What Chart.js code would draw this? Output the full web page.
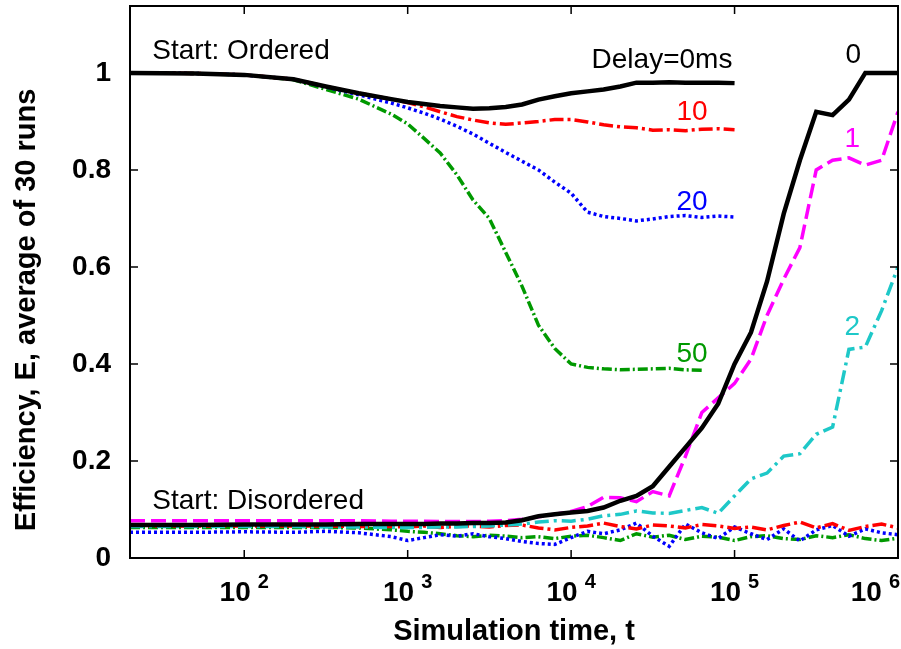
<!DOCTYPE html>
<html>
<head>
<meta charset="utf-8">
<title>Efficiency vs simulation time</title>
<script src="https://cdn.jsdelivr.net/npm/chart.js@4.4.1/dist/chart.umd.min.js"></script>
<style>
    html, body { margin: 0; padding: 0; background: #ffffff; }
    #effChart { display: block; }
</style>
</head>
<body>
<canvas id="effChart" width="901" height="649"></canvas>
<script>
// time points (simulation steps) for runs started from the ordered state
var tOrdered = [20, 50, 100, 200, 316, 501, 794, 1000, 1260, 1580, 2000, 2510, 3160, 3980,
    5010, 6310, 7940, 10000, 12600, 15800, 20000, 25100, 31600, 39800, 50100, 63100, 79400, 100000];

// mean efficiency, ordered start, one list per delay
var e0Ordered = [1.0, 0.999, 0.996, 0.987, 0.972, 0.958, 0.946, 0.940, 0.936, 0.932, 0.929, 0.926, 0.927, 0.930,
    0.935, 0.945, 0.952, 0.958, 0.962, 0.966, 0.972, 0.980, 0.980, 0.981, 0.980, 0.980, 0.980, 0.979];
var e10Ordered = [1.0, 0.999, 0.996, 0.987, 0.972, 0.958, 0.946, 0.939, 0.930, 0.920, 0.910, 0.903, 0.897, 0.894,
    0.897, 0.900, 0.904, 0.904, 0.899, 0.893, 0.889, 0.887, 0.882, 0.883, 0.881, 0.884, 0.885, 0.883];
var e20Ordered = [1.0, 0.999, 0.996, 0.987, 0.971, 0.955, 0.938, 0.928, 0.917, 0.905, 0.890, 0.874, 0.855, 0.836,
    0.818, 0.800, 0.775, 0.752, 0.713, 0.704, 0.700, 0.695, 0.699, 0.704, 0.706, 0.702, 0.705, 0.703];
var e50Ordered = [1.0, 0.999, 0.996, 0.986, 0.966, 0.946, 0.915, 0.895, 0.865, 0.835, 0.790, 0.738, 0.700, 0.630,
    0.560, 0.480, 0.432, 0.400, 0.393, 0.390, 0.388, 0.389, 0.390, 0.391, 0.388, 0.387];

// time points for runs started from the disordered state
var tDisordered = [20, 50, 100, 200, 316, 501, 794, 1000, 1260, 1580, 2000, 2510, 3160, 3980,
    5010, 6310, 7940, 10000, 12600, 15800, 20000, 25100, 31600, 39800, 50100, 63100, 79400, 100000,
    126000, 158000, 200000, 251000, 316000, 398000, 501000, 631000, 794000, 1000000];

var e0Disordered = [0.068, 0.068, 0.069, 0.069, 0.069, 0.070, 0.070, 0.070, 0.070, 0.071, 0.071, 0.072, 0.072, 0.073,
    0.078, 0.086, 0.090, 0.094, 0.097, 0.104, 0.118, 0.128, 0.148, 0.188, 0.228, 0.268, 0.318, 0.400,
    0.465, 0.570, 0.710, 0.820, 0.920, 0.913, 0.945, 1.0, 1.0, 1.0];
var e1Disordered = [0.077, 0.077, 0.077, 0.077, 0.077, 0.077, 0.076, 0.076, 0.076, 0.075, 0.075, 0.075, 0.076, 0.077,
    0.080, 0.085, 0.090, 0.096, 0.106, 0.125, 0.124, 0.116, 0.137, 0.128, 0.210, 0.300, 0.330, 0.360,
    0.410, 0.500, 0.575, 0.640, 0.800, 0.820, 0.825, 0.810, 0.820, 0.920];
var e2Disordered = [0.065, 0.065, 0.065, 0.065, 0.064, 0.064, 0.063, 0.063, 0.063, 0.064, 0.064, 0.065, 0.066, 0.068,
    0.070, 0.074, 0.077, 0.076, 0.080, 0.087, 0.090, 0.097, 0.093, 0.092, 0.098, 0.104, 0.092, 0.128,
    0.163, 0.175, 0.210, 0.215, 0.255, 0.270, 0.430, 0.435, 0.510, 0.600];
var e10Disordered = [0.066, 0.066, 0.066, 0.066, 0.066, 0.065, 0.065, 0.064, 0.066, 0.063, 0.065, 0.066, 0.064, 0.067,
    0.068, 0.062, 0.058, 0.063, 0.066, 0.072, 0.065, 0.060, 0.068, 0.066, 0.062, 0.069, 0.066, 0.061,
    0.064, 0.058, 0.067, 0.074, 0.062, 0.071, 0.057, 0.065, 0.070, 0.062];
var e20Disordered = [0.053, 0.053, 0.054, 0.053, 0.055, 0.052, 0.044, 0.036, 0.042, 0.048, 0.045, 0.050, 0.044, 0.040,
    0.034, 0.030, 0.028, 0.042, 0.055, 0.050, 0.058, 0.072, 0.045, 0.024, 0.070, 0.052, 0.040, 0.064,
    0.050, 0.038, 0.060, 0.035, 0.058, 0.067, 0.045, 0.060, 0.052, 0.048];
var e50Disordered = [0.063, 0.063, 0.063, 0.063, 0.063, 0.062, 0.058, 0.055, 0.053, 0.050, 0.046, 0.044, 0.047, 0.045,
    0.042, 0.044, 0.040, 0.045, 0.047, 0.042, 0.036, 0.050, 0.043, 0.047, 0.038, 0.045, 0.043, 0.036,
    0.044, 0.046, 0.040, 0.038, 0.046, 0.042, 0.048, 0.040, 0.036, 0.041];

// axis ticks
var decades = [100, 1000, 10000, 100000, 1000000];
var yTicks = [0, 0.2, 0.4, 0.6, 0.8, 1];

// text written next to the curves, placed in data units (t, E)
var curveLabels = [
    {text: 'Start: Ordered', t: 27.4, e: 1.029, color: '#000000', align: 'left'},
    {text: 'Delay=0ms', t: 97000, e: 1.010, color: '#000000', align: 'right'},
    {text: '10', t: 55000, e: 0.903, color: '#ff0000', align: 'center'},
    {text: '20', t: 55000, e: 0.718, color: '#0000ff', align: 'center'},
    {text: '50', t: 55000, e: 0.405, color: '#009900', align: 'center'},
    {text: '0', t: 532000, e: 1.021, color: '#000000', align: 'center'},
    {text: '1', t: 525000, e: 0.848, color: '#ff00ff', align: 'center'},
    {text: '2', t: 525000, e: 0.460, color: '#1ec8c8', align: 'center'},
    {text: 'Start: Disordered', t: 27.4, e: 0.102, color: '#000000', align: 'left'}
];

var FONT = '"Liberation Sans", Arial, Helvetica, sans-serif';

function toPoints(times, values) {
    var pts = [];
    for (var i = 0; i < values.length; i++) {
        pts.push({x: times[i], y: values[i]});
    }
    return pts;
}

function curve(label, times, values, color, width, dash) {
    return {
        label: label,
        data: toPoints(times, values),
        borderColor: color,
        backgroundColor: color,
        borderWidth: width,
        borderDash: dash,
        borderCapStyle: 'butt',
        borderJoinStyle: 'miter',
        pointRadius: 0,
        tension: 0,
        fill: false
    };
}

// frame, inward ticks, power-of-ten labels, y title and curve labels
var framePlugin = {
    id: 'frame',
    afterDraw: function (chart) {
        var ctx = chart.ctx;
        var area = chart.chartArea;
        var xs = chart.scales.x;
        var ys = chart.scales.y;
        var tick = 8;

        ctx.save();
        ctx.strokeStyle = '#000000';
        ctx.lineWidth = 2;
        ctx.strokeRect(area.left, area.top, area.right - area.left, area.bottom - area.top);

        ctx.lineWidth = 1.5;
        ctx.beginPath();
        for (var i = 0; i < decades.length; i++) {
            var px = xs.getPixelForValue(decades[i]);
            if (px > area.right - 2) continue;
            ctx.moveTo(px, area.bottom);
            ctx.lineTo(px, area.bottom - tick);
            ctx.moveTo(px, area.top);
            ctx.lineTo(px, area.top + tick);
        }
        for (var j = 0; j < yTicks.length; j++) {
            var py = ys.getPixelForValue(yTicks[j]);
            ctx.moveTo(area.left, py);
            ctx.lineTo(area.left + tick, py);
            ctx.moveTo(area.right, py);
            ctx.lineTo(area.right - tick, py);
        }
        ctx.stroke();

        // 10^k labels under the x axis, the last one kept inside the canvas
        ctx.fillStyle = '#000000';
        ctx.textBaseline = 'alphabetic';
        ctx.textAlign = 'left';
        for (var k = 0; k < decades.length; k++) {
            var cx = xs.getPixelForValue(decades[k]);
            var exp = String(Math.round(Math.log10(decades[k])));
            ctx.font = 'bold 28px ' + FONT;
            var wBase = ctx.measureText('10').width;
            ctx.font = 'bold 20px ' + FONT;
            var wExp = ctx.measureText(exp).width;
            var gap = 7;
            var total = wBase + gap + wExp;
            var x0 = cx - total / 2;
            if (x0 + total > chart.width - 1) x0 = chart.width - 1 - total;
            ctx.font = 'bold 28px ' + FONT;
            ctx.fillText('10', x0, area.bottom + 43);
            ctx.font = 'bold 20px ' + FONT;
            ctx.fillText(exp, x0 + wBase + gap, area.bottom + 30);
        }

        // y axis title
        ctx.save();
        ctx.translate(27, 310);
        ctx.rotate(-Math.PI / 2);
        ctx.font = 'bold 29px ' + FONT;
        ctx.textAlign = 'center';
        ctx.textBaseline = 'middle';
        ctx.fillText('Efficiency, E, average of 30 runs', 0, 0);
        ctx.restore();

        // curve labels
        ctx.font = '28px ' + FONT;
        ctx.textBaseline = 'alphabetic';
        for (var n = 0; n < curveLabels.length; n++) {
            var lab = curveLabels[n];
            ctx.fillStyle = lab.color;
            ctx.textAlign = lab.align;
            ctx.fillText(lab.text, xs.getPixelForValue(lab.t), ys.getPixelForValue(lab.e));
        }
        ctx.restore();
    }
};

var RED = '#ff0000', BLUE = '#0000ff', GREEN = '#009900', MAGENTA = '#ff00ff', CYAN = '#1ec8c8';
var DASHDOT = [14, 4, 3, 4];
var DOTS = [3, 3];

new Chart(document.getElementById('effChart'), {
    type: 'line',
    data: {
        datasets: [
            curve('0 ms, ordered', tOrdered, e0Ordered, '#000000', 4.5, []),
            curve('0 ms, disordered', tDisordered, e0Disordered, '#000000', 4.5, []),
            curve('1 ms, disordered', tDisordered, e1Disordered, MAGENTA, 3.5, [15, 6]),
            curve('2 ms, disordered', tDisordered, e2Disordered, CYAN, 3.5, [14, 5, 3, 5]),
            curve('10 ms, ordered', tOrdered, e10Ordered, RED, 3.5, DASHDOT),
            curve('10 ms, disordered', tDisordered, e10Disordered, RED, 3.5, DASHDOT),
            curve('20 ms, ordered', tOrdered, e20Ordered, BLUE, 3.5, DOTS),
            curve('20 ms, disordered', tDisordered, e20Disordered, BLUE, 3.5, DOTS),
            curve('50 ms, ordered', tOrdered, e50Ordered, GREEN, 3.5, [10, 3, 2, 3]),
            curve('50 ms, disordered', tDisordered, e50Disordered, GREEN, 3.5, [10, 3, 2, 3])
        ]
    },
    options: {
        responsive: false,
        animation: false,
        devicePixelRatio: 1,
        layout: {padding: {left: 9, top: 6, right: 3, bottom: 0}},
        plugins: {
            legend: {display: false},
            tooltip: {enabled: false}
        },
        scales: {
            x: {
                type: 'logarithmic',
                min: 20,
                max: 1000000,
                afterBuildTicks: function (axis) {
                    axis.ticks = decades.map(function (v) { return {value: v}; });
                },
                afterFit: function (axis) {
                    axis.height = 91;
                    axis.paddingLeft = 0;
                    axis.paddingRight = 0;
                },
                grid: {display: false},
                border: {display: false},
                ticks: {display: false},
                title: {
                    display: true,
                    text: 'Simulation time, t',
                    color: '#000000',
                    padding: 0,
                    font: {family: FONT, size: 29, weight: 'bold'}
                }
            },
            y: {
                min: 0,
                max: 1.138,
                afterBuildTicks: function (axis) {
                    axis.ticks = yTicks.map(function (v) { return {value: v}; });
                },
                afterFit: function (axis) {
                    axis.width = 121;
                    axis.paddingTop = 0;
                    axis.paddingBottom = 0;
                },
                grid: {display: false, drawTicks: false},
                border: {display: false},
                ticks: {
                    padding: 19,
                    color: '#000000',
                    font: {family: FONT, size: 28, weight: 'bold'},
                    callback: function (v) { return v === 0 || v === 1 ? String(v) : v.toFixed(1); }
                }
            }
        }
    },
    plugins: [framePlugin]
});
</script>
</body>
</html>
